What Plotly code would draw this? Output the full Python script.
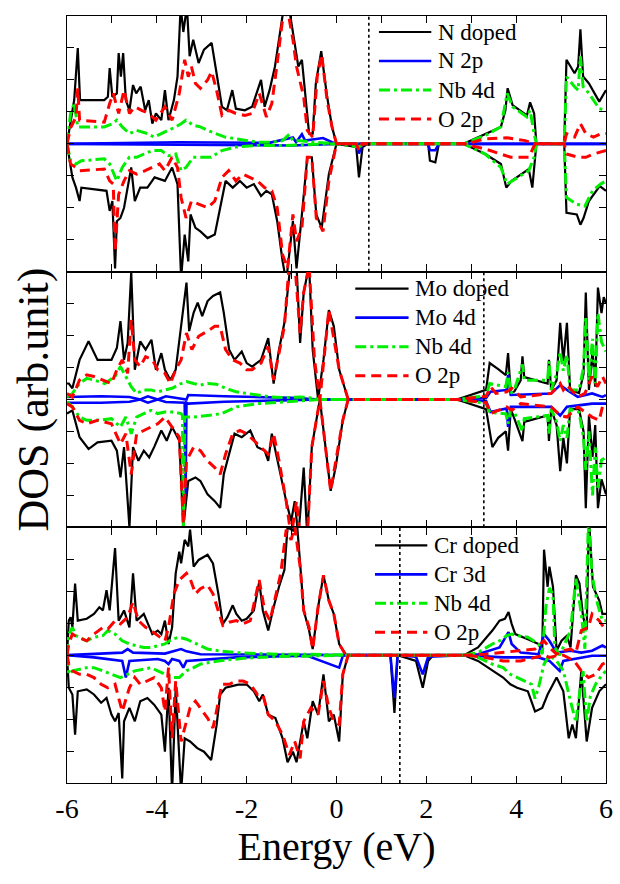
import plotly.graph_objects as go
from plotly.subplots import make_subplots

# ---------------- DATA (energy in eV, DOS in arb. units; spin up > 0, spin down < 0) ----------------
energy_ticks = [-6, -5, -4, -3, -2, -1, 0, 1, 2, 3, 4, 5, 6]
energy_labels = ["-6", "", "-4", "", "-2", "", "0", "", "2", "", "4", "", "6"]
dotted_levels = [0.72, 3.28, 1.41]
panel_names = ["N doped", "Mo doped", "Cr doped"]
dopant_labels = ["N 2p", "Mo 4d", "Cr 3d"]

# ---- Panel 1: N doped ----
N_total_up = [(-6.0, 0), (-5.88, 1.0), (-5.84, 1.37), (-5.76, 3.0), (-5.71, 1.37), (-5.17, 1.37), (-5.09, 1.47),
              (-5.05, 2.37), (-4.99, 1.47), (-4.89, 1.58), (-4.85, 2.84), (-4.80, 2.1), (-4.75, 2.84), (-4.69, 1.37),
              (-4.61, 1.05), (-4.53, 1.84), (-4.46, 1.58), (-4.36, 1.79), (-4.26, 1.05), (-4.18, 1.37), (-4.10, 0.63),
              (-4.02, 0.95), (-3.90, 0.74), (-3.82, 1.68), (-3.74, 0.74), (-3.62, 1.37), (-3.54, 2.1), (-3.47, 4.3),
              (-3.41, 3.5), (-3.33, 4.3), (-3.27, 2.74), (-3.19, 3.26), (-3.07, 2.53), (-2.95, 2.95), (-2.78, 3.16),
              (-2.67, 2.21), (-2.55, 1.16), (-2.44, 1.05), (-2.32, 1.68), (-2.24, 1.1), (-2.04, 1.05), (-1.88, 1.16),
              (-1.76, 1.68), (-1.68, 2.0), (-1.60, 1.16), (-1.49, 1.68), (-1.37, 2.42), (-1.25, 3.58), (-1.17, 4.3),
              (-1.05, 4.2), (-0.97, 3.47), (-0.85, 2.42), (-0.77, 2.63), (-0.69, 1.37), (-0.61, 0.32), (-0.53, 0.32),
              (-0.46, 1.89), (-0.34, 2.9), (-0.22, 1.58), (-0.10, 0.53), (0.0, 0), (2.83, 0), (3.31, 0.32),
              (3.66, 0.53), (3.76, 1.05), (3.81, 1.74), (3.92, 1.21), (4.24, 0.89), (4.31, 1.3), (4.40, 0.95),
              (4.45, 0), (5.07, 0), (5.12, 2.63), (5.30, 2.21), (5.38, 2.42), (5.43, 3.58), (5.49, 2.11),
              (5.62, 1.89), (5.85, 1.32), (6.0, 1.68)]
N_total_dn = [(-6.0, 0), (-5.88, -1.05), (-5.80, -1.37), (-5.72, -1.79), (-5.68, -1.37), (-5.12, -1.47),
              (-5.05, -2.1), (-4.99, -1.79), (-4.93, -3.9), (-4.89, -2.42), (-4.81, -2.32), (-4.73, -2.0),
              (-4.57, -0.74), (-4.49, -1.79), (-4.37, -1.37), (-4.21, -1.37), (-4.05, -1.05), (-3.82, -1.16),
              (-3.66, -0.74), (-3.54, -1.26), (-3.46, -4.2), (-3.38, -2.84), (-3.30, -3.68), (-3.25, -2.21),
              (-3.14, -2.63), (-3.03, -2.74), (-2.87, -2.95), (-2.71, -2.84), (-2.59, -2.0), (-2.47, -1.16),
              (-2.31, -1.37), (-2.15, -1.16), (-2.0, -1.37), (-1.84, -1.26), (-1.68, -1.63), (-1.56, -1.47),
              (-1.44, -1.58), (-1.32, -2.42), (-1.20, -3.68), (-1.12, -4.3), (-0.97, -2.42), (-0.89, -3.9),
              (-0.77, -2.21), (-0.65, -0.42), (-0.55, -0.42), (-0.45, -2.21), (-0.33, -2.63), (-0.17, -0.95),
              (0.0, 0), (0.44, -0.1), (0.50, -1.05), (0.58, -0.1), (0.70, 0), (2.04, 0), (2.08, -0.53),
              (2.20, -0.58), (2.28, 0), (2.83, 0), (3.31, -0.32), (3.66, -0.63), (3.78, -1.37), (3.90, -1.16),
              (4.28, -0.79), (4.36, -1.37), (4.45, 0), (5.07, 0), (5.12, -2.16), (5.35, -2.21), (5.43, -2.53),
              (5.50, -2.32), (5.62, -1.79), (5.86, -1.32), (6.0, -1.47)]
N_O2p_up = [(-6.0, 0), (-5.92, 0.5), (-5.80, 0.84), (-5.76, 1.74), (-5.72, 0.74), (-5.17, 0.68), (-5.05, 1.26),
            (-4.97, 1.58), (-4.85, 0.95), (-4.73, 1.68), (-4.61, 0.95), (-4.49, 1.16), (-4.34, 1.05), (-4.18, 0.95),
            (-4.02, 0.74), (-3.82, 1.16), (-3.66, 0.74), (-3.50, 1.58), (-3.38, 2.63), (-3.30, 2.1), (-3.23, 2.42),
            (-3.14, 1.89), (-3.03, 1.74), (-2.87, 2.0), (-2.78, 2.26), (-2.67, 1.68), (-2.55, 0.89), (-2.40, 1.05),
            (-2.24, 0.95), (-2.04, 0.89), (-1.88, 0.95), (-1.72, 1.58), (-1.56, 0.84), (-1.44, 1.26), (-1.33, 2.42),
            (-1.21, 3.79), (-1.09, 4.2), (-0.97, 3.26), (-0.89, 2.42), (-0.81, 1.89), (-0.73, 1.47), (-0.65, 0.42),
            (-0.53, 0.21), (-0.43, 2.1), (-0.33, 2.8), (-0.21, 1.37), (-0.10, 0.53), (0.0, 0), (2.99, 0),
            (3.03, 0.05), (3.31, 0.16), (3.80, 0.19), (4.20, 0.1), (4.42, 0), (5.07, 0), (5.12, 0.32), (5.30, 0.21),
            (5.43, 0.63), (5.55, 0.32), (5.72, 0.21), (5.90, 0.32), (6.0, 0.32)]
N_O2p_dn = [(-6.0, 0), (-5.92, -0.63), (-5.80, -0.74), (-5.72, -0.84), (-5.17, -0.79), (-5.05, -1.16),
            (-4.97, -1.26), (-4.93, -3.37), (-4.85, -1.58), (-4.73, -1.16), (-4.61, -0.84), (-4.45, -0.95),
            (-4.26, -0.84), (-4.10, -0.74), (-3.94, -0.63), (-3.82, -0.84), (-3.66, -0.42), (-3.54, -0.74),
            (-3.46, -1.68), (-3.35, -2.32), (-3.23, -1.79), (-3.07, -1.89), (-2.87, -2.0), (-2.71, -1.79),
            (-2.55, -1.05), (-2.40, -0.84), (-2.24, -1.16), (-2.08, -0.95), (-1.92, -1.05), (-1.76, -1.16),
            (-1.60, -1.37), (-1.44, -1.47), (-1.32, -2.0), (-1.20, -3.47), (-1.09, -3.9), (-0.97, -2.21),
            (-0.89, -3.05), (-0.77, -2.63), (-0.65, -0.42), (-0.55, -0.42), (-0.45, -2.32), (-0.30, -2.74),
            (-0.17, -1.16), (0.0, 0), (0.44, 0), (0.50, -0.21), (0.58, 0), (2.83, 0), (3.31, -0.16), (3.88, -0.42),
            (4.28, -0.42), (4.42, 0), (5.07, 0), (5.12, -0.32), (5.38, -0.42), (5.55, -0.42), (5.72, -0.32),
            (6.0, -0.21)]
N_Nb4d_up = [(-6.0, 0), (-5.92, 0.95), (-5.84, 1.26), (-5.76, 0.53), (-5.17, 0.53), (-4.99, 0.63), (-4.89, 0.74),
             (-4.77, 0.53), (-4.61, 0.32), (-4.45, 0.42), (-4.21, 0.32), (-4.06, 0.21), (-3.90, 0.32), (-3.74, 0.42),
             (-3.58, 0.53), (-3.46, 0.63), (-3.35, 0.74), (-3.19, 0.58), (-3.03, 0.53), (-2.87, 0.42), (-2.67, 0.32),
             (-2.48, 0.21), (-2.24, 0.16), (-2.0, 0.1), (-1.76, 0.05), (-1.44, 0.05), (-1.20, 0.1), (-1.05, 0.3),
             (-0.97, 0.1), (-0.8, 0.1), (-0.5, 0.05), (0.0, 0), (2.83, 0), (3.31, 0.26), (3.66, 0.53), (3.80, 1.58),
             (3.92, 1.16), (4.24, 0.84), (4.31, 1.05), (4.40, 0.32), (4.45, 0), (5.07, 0), (5.12, 2.1),
             (5.30, 1.79), (5.38, 1.68), (5.43, 2.74), (5.49, 1.79), (5.62, 1.58), (5.85, 1.1), (6.0, 1.05)]
N_Nb4d_dn = [(-6.0, 0), (-5.92, -0.53), (-5.80, -0.63), (-5.68, -0.53), (-5.17, -0.47), (-5.05, -0.63),
             (-4.89, -1.16), (-4.77, -0.74), (-4.61, -0.42), (-4.45, -0.42), (-4.29, -0.32), (-4.10, -0.21),
             (-3.90, -0.21), (-3.74, -0.37), (-3.58, -0.32), (-3.46, -0.84), (-3.35, -0.74), (-3.19, -0.42),
             (-3.03, -0.42), (-2.79, -0.42), (-2.55, -0.21), (-2.24, -0.1), (-1.76, -0.05), (-1.12, -0.05),
             (-0.65, -0.02), (0.0, 0), (0.50, -0.1), (0.6, 0), (2.83, 0), (3.31, -0.32), (3.66, -0.74),
             (3.80, -1.26), (4.28, -0.84), (4.40, -0.42), (4.45, 0), (5.07, 0), (5.12, -1.68), (5.35, -1.89),
             (5.53, -1.95), (5.70, -1.47), (5.88, -1.26), (6.0, -1.16)]
N_N2p_up = [(-6.0, 0), (-4.5, 0.02), (-3.5, 0.05), (-1.5, 0.03), (-0.97, 0.2), (-0.9, 0.05), (-0.77, 0.3),
            (-0.7, 0.1), (-0.3, 0.18), (-0.1, 0.05), (0.0, 0), (6.0, 0)]
N_N2p_dn = [(-6.0, 0), (-3.5, -0.03), (-1.0, -0.05), (0.0, 0), (0.44, 0), (0.50, -0.3), (0.58, 0), (2.04, 0),
            (2.08, -0.2), (2.20, -0.2), (2.28, 0), (6.0, 0)]

# ---- Panel 2: Mo doped ----
Mo_total_up = [(-6.0, 0.5), (-5.96, 0.5), (-5.88, 0.35), (-5.72, 1.24), (-5.52, 1.82), (-5.32, 1.24), (-5.01, 1.24),
               (-4.89, 1.61), (-4.81, 2.45), (-4.73, 1.24), (-4.65, 1.77), (-4.57, 3.98), (-4.49, 0.93),
               (-4.37, 1.82), (-4.25, 1.56), (-4.12, 1.87), (-4.02, 0.93), (-3.90, 1.45), (-3.82, 0.93),
               (-3.70, 0.61), (-3.58, 0.93), (-3.46, 2.29), (-3.34, 3.66), (-3.28, 2.14), (-3.18, 2.72),
               (-3.09, 3.03), (-2.99, 2.61), (-2.87, 3.08), (-2.75, 3.24), (-2.59, 3.35), (-2.51, 2.72),
               (-2.39, 1.56), (-2.27, 1.24), (-2.11, 1.5), (-2.0, 1.14), (-1.88, 1.03), (-1.68, 1.24), (-1.52, 1.92),
               (-1.40, 0.5), (-1.28, 1.56), (-1.16, 2.4), (-1.05, 3.9), (-0.97, 4.3), (-0.89, 4.2), (-0.81, 1.77),
               (-0.73, 3.35), (-0.61, 4.2), (-0.53, 1.56), (-0.41, 0.0), (-0.29, 1.24), (-0.17, 2.8), (-0.06, 2.29),
               (0.06, 0.93), (0.26, 0.0), (2.68, 0.0), (3.33, 0.3), (3.41, 1.14), (3.60, 0.95), (3.77, 0.76),
               (3.82, 1.45), (3.88, 0.2), (3.96, 0.25), (4.10, 0.6), (4.14, 1.35), (4.18, 0.7), (4.70, 0.5),
               (4.73, 1.24), (4.78, 0.3), (4.90, 0.6), (4.98, 2.4), (5.05, 1.2), (5.13, 2.4), (5.20, 0.3),
               (5.40, 0.2), (5.50, 0.8), (5.55, 3.35), (5.62, 0.3), (5.70, 1.5), (5.76, 0.4), (5.82, 3.5),
               (5.90, 2.7), (5.95, 3.2), (6.0, 3.0)]
Mo_total_dn = [(-6.0, -0.44), (-5.88, -0.34), (-5.72, -1.18), (-5.52, -1.55), (-5.32, -1.34), (-5.01, -1.29),
               (-4.89, -1.6), (-4.81, -2.44), (-4.73, -1.49), (-4.61, -4.0), (-4.53, -1.49), (-4.41, -1.92),
               (-4.29, -1.6), (-4.17, -1.81), (-4.06, -1.49), (-3.90, -0.97), (-3.78, -1.29), (-3.66, -0.86),
               (-3.50, -1.29), (-3.41, -4.0), (-3.30, -2.55), (-3.14, -2.44), (-3.03, -2.55), (-2.95, -2.76),
               (-2.87, -2.97), (-2.71, -3.18), (-2.59, -3.39), (-2.51, -2.34), (-2.39, -1.71), (-2.27, -1.07),
               (-2.11, -1.18), (-1.92, -0.97), (-1.76, -1.49), (-1.60, -1.6), (-1.52, -1.92), (-1.44, -1.07),
               (-1.36, -1.6), (-1.24, -2.44), (-1.12, -3.18), (-1.01, -3.81), (-0.93, -3.18), (-0.85, -4.3),
               (-0.73, -2.13), (-0.65, -4.3), (-0.55, -1.49), (-0.37, 0.0), (-0.25, -1.49), (-0.13, -2.86),
               (-0.02, -2.13), (0.14, -0.65), (0.26, 0.0), (2.68, 0.0), (3.33, -0.3), (3.41, -1.07), (3.47, -1.49),
               (3.60, -1.2), (3.77, -1.0), (3.82, -1.6), (3.88, -0.3), (3.96, -0.6), (4.14, -1.3), (4.18, -0.7),
               (4.70, -0.5), (4.73, -1.3), (4.78, -0.3), (4.90, -0.8), (4.98, -2.24), (5.05, -1.2), (5.13, -2.0),
               (5.20, -0.3), (5.40, -0.3), (5.50, -1.0), (5.55, -3.4), (5.62, -0.5), (5.70, -1.8), (5.76, -0.8),
               (5.82, -3.4), (5.90, -2.5), (6.0, -2.97)]
Mo_O2p_up = [(-6.0, 0.19), (-5.88, 0.08), (-5.72, 0.61), (-5.56, 0.77), (-5.40, 0.72), (-5.20, 0.61), (-5.01, 0.5),
             (-4.89, 0.93), (-4.77, 1.24), (-4.65, 0.82), (-4.57, 2.5), (-4.49, 1.24), (-4.37, 1.03), (-4.25, 1.34),
             (-4.10, 1.24), (-3.98, 0.93), (-3.82, 0.82), (-3.70, 0.5), (-3.58, 0.93), (-3.46, 1.24), (-3.34, 2.08),
             (-3.22, 1.56), (-3.07, 1.98), (-2.87, 2.14), (-2.71, 2.29), (-2.59, 2.29), (-2.47, 1.56),
             (-2.31, 1.24), (-2.15, 1.14), (-2.0, 0.93), (-1.88, 0.93), (-1.68, 1.14), (-1.52, 1.66), (-1.40, 0.61),
             (-1.28, 1.45), (-1.16, 2.29), (-1.05, 4.3), (-0.93, 4.3), (-0.81, 2.08), (-0.73, 3.35), (-0.61, 4.2),
             (-0.49, 1.24), (-0.37, 0.0), (-0.17, 2.8), (0.06, 0.93), (0.26, 0.0), (2.68, 0.0), (3.33, 0.1),
             (3.43, 0.4), (3.55, 0.19), (3.79, 0.24), (3.90, 0.35), (4.10, 0.08), (4.42, 0.14), (4.78, 0.19),
             (4.98, 0.5), (5.05, 0.3), (5.13, 0.45), (5.37, 0.08), (5.53, 0.19), (5.69, 0.72), (5.81, 0.4),
             (5.92, 0.72), (6.0, 0.5)]
Mo_O2p_dn = [(-6.0, -0.13), (-5.88, -0.23), (-5.72, -0.65), (-5.56, -0.76), (-5.32, -0.65), (-5.01, -0.76),
             (-4.81, -1.39), (-4.69, -1.07), (-4.57, -2.34), (-4.45, -1.07), (-4.29, -0.97), (-4.13, -0.86),
             (-3.98, -0.76), (-3.82, -0.55), (-3.66, -0.86), (-3.50, -1.18), (-3.41, -3.9), (-3.34, -1.92),
             (-3.18, -1.49), (-3.03, -1.6), (-2.87, -1.92), (-2.71, -2.13), (-2.59, -2.34), (-2.47, -1.71),
             (-2.31, -1.07), (-2.15, -0.97), (-2.0, -1.07), (-1.84, -1.29), (-1.68, -1.49), (-1.52, -1.71),
             (-1.40, -1.07), (-1.28, -1.92), (-1.12, -3.18), (-1.01, -4.3), (-0.89, -3.18), (-0.81, -4.3),
             (-0.65, -4.3), (-0.55, -1.49), (-0.37, 0.0), (-0.13, -2.86), (0.14, -0.65), (0.26, 0.0), (2.68, 0.0),
             (3.33, -0.1), (3.43, -0.44), (3.79, -0.23), (3.90, -0.34), (4.10, -0.13), (4.78, -0.23),
             (4.98, -0.5), (5.13, -0.55), (5.37, -0.23), (5.69, -0.55), (5.85, -0.65), (5.92, -0.23), (6.0, -0.23)]
Mo_Nb4d_up = [(-6.0, 0.08), (-5.88, 0.19), (-5.72, 0.5), (-5.56, 0.66), (-5.40, 0.61), (-5.16, 0.5), (-4.93, 0.72),
              (-4.81, 1.03), (-4.69, 0.72), (-4.57, 0.4), (-4.45, 0.19), (-4.29, 0.3), (-4.13, 0.3), (-3.98, 0.24),
              (-3.82, 0.3), (-3.66, 0.35), (-3.46, 0.5), (-3.34, 0.56), (-3.18, 0.5), (-3.03, 0.45), (-2.87, 0.5),
              (-2.67, 0.48), (-2.47, 0.35), (-2.23, 0.24), (-2.0, 0.19), (-1.76, 0.14), (-1.44, 0.08),
              (-1.12, 0.06), (-0.81, 0.08), (-0.49, 0.04), (-0.37, 0.0), (2.68, 0.0), (3.33, 0.12), (3.41, 0.5),
              (3.77, 0.4), (3.82, 0.85), (3.88, 0.2), (3.96, 0.3), (4.14, 1.1), (4.18, 0.6), (4.70, 0.6),
              (4.73, 1.2), (4.78, 0.3), (4.90, 0.8), (4.98, 1.5), (5.05, 0.9), (5.13, 1.4), (5.20, 0.3),
              (5.40, 0.3), (5.50, 1.0), (5.55, 2.6), (5.62, 0.6), (5.70, 1.9), (5.76, 0.5), (5.82, 2.7),
              (5.90, 1.8), (6.0, 1.5)]
Mo_Nb4d_dn = [(-6.0, -0.07), (-5.88, -0.23), (-5.72, -0.55), (-5.56, -0.65), (-5.32, -0.65), (-5.01, -0.6),
              (-4.81, -0.86), (-4.69, -0.55), (-4.57, -1.07), (-4.45, -0.55), (-4.29, -0.44), (-4.13, -0.34),
              (-3.98, -0.44), (-3.82, -0.39), (-3.66, -0.39), (-3.46, -0.44), (-3.43, -0.5), (-3.41, -4.3),
              (-3.38, -0.55), (-3.34, -0.55), (-3.18, -0.55), (-2.87, -0.5), (-2.55, -0.44), (-2.23, -0.23),
              (-1.76, -0.13), (-1.12, -0.07), (-0.37, 0.0), (2.68, 0.0), (3.33, -0.12), (3.41, -0.4),
              (3.77, -0.45), (3.82, -0.76), (3.88, -0.3), (3.96, -0.4), (4.14, -1.0), (4.18, -0.6), (4.70, -0.5),
              (4.73, -1.07), (4.78, -0.3), (4.90, -0.7), (4.98, -1.3), (5.05, -0.8), (5.13, -1.2), (5.20, -0.3),
              (5.40, -0.4), (5.50, -1.2), (5.55, -2.2), (5.62, -1.0), (5.70, -3.0), (5.76, -1.5), (5.82, -2.76),
              (5.90, -1.9), (6.0, -1.81)]
Mo_Mo4d_up = [(-6.0, 0.08), (-5.24, 0.1), (-4.61, 0.08), (-4.37, 0.0), (-4.2, 0.1), (-3.98, 0.0), (-3.8, 0.1),
              (-3.34, 0.0), (-3.30, 0.14), (-2.5, 0.1), (-1.0, 0.05), (-0.37, 0.0), (2.68, 0.0), (3.33, 0.05),
              (3.43, 0.24), (3.79, 0.3), (3.82, 0.77), (3.88, 0.14), (4.78, 0.19), (4.98, 0.45), (5.13, 0.3),
              (5.37, 0.08), (5.69, 0.19), (5.92, 0.08), (6.0, 0.14)]
Mo_Mo4d_dn = [(-6.0, -0.1), (-5.24, -0.1), (-4.61, -0.07), (-4.37, 0.0), (-4.2, -0.1), (-3.98, 0.0), (-3.8, -0.08),
              (-3.38, -0.1), (-3.36, -2.97), (-3.34, -0.1), (-3.30, -0.13), (-2.5, -0.07), (-1.0, -0.02),
              (-0.37, 0.0), (2.68, 0.0), (3.33, -0.05), (3.43, -0.39), (3.79, -0.28), (3.82, -0.86), (3.88, -0.23),
              (4.78, -0.23), (4.98, -0.5), (5.13, -0.23), (5.69, -0.13), (6.0, -0.13)]

# ---- Panel 3: Cr doped ----
Cr_total_up = [(-6.0, 0.0), (-5.96, 1.08), (-5.92, 1.19), (-5.88, 0.87), (-5.82, 2.24), (-5.76, 1.08),
               (-5.56, 1.14), (-5.40, 1.29), (-5.28, 1.5), (-5.20, 1.4), (-5.12, 2.03), (-5.05, 1.4), (-4.93, 3.35),
               (-4.85, 1.08), (-4.73, 1.4), (-4.61, 0.87), (-4.53, 2.56), (-4.45, 1.08), (-4.29, 1.29),
               (-4.17, 0.87), (-4.10, 0.66), (-3.98, 0.77), (-3.90, 0.66), (-3.82, 1.08), (-3.74, 0.35),
               (-3.66, 0.87), (-3.58, 2.56), (-3.50, 3.24), (-3.46, 2.87), (-3.38, 3.61), (-3.30, 3.4),
               (-3.26, 3.93), (-3.18, 2.77), (-3.07, 2.98), (-2.95, 3.08), (-2.87, 3.14), (-2.75, 2.87),
               (-2.63, 1.92), (-2.53, 0.98), (-2.43, 1.19), (-2.31, 1.56), (-2.23, 1.29), (-2.11, 1.08),
               (-2.0, 1.14), (-1.84, 1.4), (-1.72, 2.3), (-1.64, 1.4), (-1.52, 0.77), (-1.40, 1.5), (-1.28, 2.14),
               (-1.16, 2.66), (-1.09, 4.0), (-0.97, 3.9), (-0.89, 4.3), (-0.81, 2.87), (-0.73, 1.4), (-0.61, 0.77),
               (-0.53, 0.19), (-0.41, 1.5), (-0.29, 2.5), (-0.17, 1.71), (-0.06, 1.29), (0.06, 0.35), (0.21, 0.0),
               (2.84, 0.0), (3.15, 0.24), (3.47, 0.77), (3.63, 1.08), (3.75, 1.14), (3.83, 1.35), (3.90, 0.98),
               (3.98, 0.66), (4.26, 0.5), (4.50, 0.35), (4.58, 0.08), (4.62, 3.3), (4.70, 2.14), (4.74, 2.77),
               (4.82, 2.14), (4.90, 0.14), (5.01, 0.45), (5.13, 0.61), (5.21, 0.24), (5.33, 2.5), (5.41, 2.24),
               (5.49, 1.2), (5.57, 0.8), (5.62, 4.3), (5.71, 2.14), (5.85, 1.71), (5.92, 1.29), (6.0, 1.29)]
Cr_total_dn = [(-6.0, 0.0), (-5.96, -1.02), (-5.88, -1.23), (-5.82, -2.49), (-5.76, -1.13), (-5.56, -1.07),
               (-5.40, -1.23), (-5.24, -1.49), (-5.12, -1.34), (-5.01, -1.86), (-4.93, -2.07), (-4.85, -1.81),
               (-4.77, -3.86), (-4.73, -2.07), (-4.61, -1.65), (-4.49, -2.07), (-4.37, -1.44), (-4.21, -1.34),
               (-4.06, -1.55), (-3.90, -1.86), (-3.82, -3.02), (-3.74, -1.02), (-3.66, -4.3), (-3.58, -1.02),
               (-3.46, -4.3), (-3.38, -2.6), (-3.26, -2.7), (-3.10, -2.91), (-2.95, -3.02), (-2.79, -3.28),
               (-2.67, -2.2), (-2.59, -1.23), (-2.47, -1.02), (-2.35, -0.97), (-2.19, -0.92), (-2.0, -0.92),
               (-1.84, -1.13), (-1.72, -1.44), (-1.64, -1.23), (-1.52, -1.86), (-1.36, -1.97), (-1.20, -2.6),
               (-1.09, -3.35), (-0.97, -3.02), (-0.89, -3.35), (-0.73, -2.07), (-0.65, -2.6), (-0.53, -1.44),
               (-0.41, -1.86), (-0.29, -0.6), (-0.17, -2.07), (-0.06, -1.86), (0.06, -2.7), (0.14, -0.6),
               (0.26, 0.0), (1.2, 0.0), (1.29, -1.81), (1.36, 0.0), (1.77, -0.18), (1.92, -1.02), (2.04, -0.18),
               (2.15, 0.0), (2.84, 0.0), (3.15, -0.18), (3.47, -0.49), (3.71, -0.7), (3.87, -0.91), (4.02, -1.02),
               (4.26, -1.13), (4.42, -1.76), (4.58, -1.65), (4.70, -1.23), (4.78, -1.02), (4.90, -0.7),
               (5.05, -1.13), (5.17, -2.6), (5.25, -2.17), (5.33, -2.6), (5.45, -0.49), (5.57, -2.7),
               (5.69, -1.65), (5.85, -1.13), (6.0, -0.91)]
Cr_O2p_up = [(-6.0, 0.0), (-5.96, 0.35), (-5.88, 0.66), (-5.76, 0.56), (-5.56, 0.45), (-5.40, 0.66), (-5.20, 0.87),
             (-5.09, 0.82), (-4.93, 1.08), (-4.81, 0.98), (-4.65, 1.19), (-4.53, 1.66), (-4.41, 1.08),
             (-4.25, 0.87), (-4.13, 0.77), (-4.02, 0.66), (-3.82, 0.45), (-3.74, 0.87), (-3.62, 1.92),
             (-3.50, 2.35), (-3.34, 2.56), (-3.26, 2.4), (-3.14, 1.92), (-3.03, 2.08), (-2.87, 2.19), (-2.75, 1.92),
             (-2.63, 1.4), (-2.53, 0.93), (-2.39, 1.03), (-2.23, 1.08), (-2.08, 0.98), (-1.92, 1.08), (-1.72, 2.35),
             (-1.60, 1.4), (-1.48, 1.08), (-1.36, 1.82), (-1.24, 2.56), (-1.12, 3.93), (-1.01, 3.61), (-0.93, 4.03),
             (-0.81, 2.77), (-0.73, 1.4), (-0.61, 0.87), (-0.53, 0.19), (-0.41, 1.5), (-0.29, 2.5), (-0.17, 1.71),
             (-0.06, 1.29), (0.06, 0.35), (0.21, 0.0), (2.84, 0.0), (3.31, 0.03), (3.71, 0.08), (4.10, 0.14),
             (4.42, 0.19), (4.62, 0.45), (4.74, 0.24), (4.90, 0.03), (5.05, 0.14), (5.21, 0.19), (5.33, 0.08),
             (5.45, 0.77), (5.61, 0.87), (5.69, 1.29), (5.85, 1.08), (6.0, 0.77)]
Cr_O2p_dn = [(-6.0, 0.0), (-5.96, -0.28), (-5.88, -0.49), (-5.72, -0.6), (-5.56, -0.6), (-5.40, -0.7),
             (-5.24, -0.91), (-5.09, -1.02), (-4.93, -0.91), (-4.77, -1.76), (-4.61, -1.02), (-4.49, -0.7),
             (-4.37, -0.91), (-4.21, -0.81), (-4.06, -0.7), (-3.90, -1.02), (-3.82, -1.76), (-3.74, -0.39),
             (-3.66, -2.6), (-3.58, -0.81), (-3.46, -2.7), (-3.38, -2.28), (-3.26, -1.65), (-3.14, -1.44),
             (-3.03, -1.65), (-2.87, -1.97), (-2.75, -2.28), (-2.63, -1.44), (-2.55, -0.91), (-2.39, -0.91),
             (-2.23, -0.81), (-2.08, -0.81), (-1.92, -0.91), (-1.76, -1.23), (-1.64, -1.23), (-1.52, -1.86),
             (-1.36, -2.07), (-1.20, -2.49), (-1.05, -3.12), (-0.93, -2.7), (-0.81, -3.23), (-0.73, -2.07),
             (-0.57, -1.65), (-0.41, -1.86), (-0.29, -0.81), (-0.17, -1.65), (-0.06, -2.07), (0.06, -2.17),
             (0.14, -0.6), (0.26, 0.0), (2.84, 0.0), (3.31, -0.07), (3.71, -0.18), (4.10, -0.18), (4.42, -0.07),
             (4.62, 0.0), (4.74, -0.07), (4.90, -0.02), (5.05, 0.0), (5.29, -0.18), (5.45, -0.49), (5.61, -0.7),
             (5.77, -0.6), (5.92, -0.28), (6.0, -0.23)]
Cr_Nb4d_up = [(-6.0, 0.0), (-5.96, 0.66), (-5.88, 0.87), (-5.80, 0.61), (-5.56, 0.45), (-5.40, 0.56),
              (-5.20, 0.61), (-5.09, 0.77), (-4.93, 0.66), (-4.77, 0.45), (-4.61, 0.35), (-4.45, 0.3),
              (-4.29, 0.24), (-4.13, 0.24), (-3.98, 0.3), (-3.82, 0.35), (-3.66, 0.5), (-3.50, 0.56), (-3.34, 0.5),
              (-3.18, 0.4), (-3.03, 0.3), (-2.87, 0.19), (-2.63, 0.14), (-2.23, 0.08), (-1.76, 0.05),
              (-1.28, 0.03), (-0.65, 0.03), (0.21, 0.0), (2.84, 0.0), (3.15, 0.08), (3.47, 0.35), (3.63, 0.45),
              (3.79, 0.61), (3.90, 0.66), (4.02, 0.61), (4.26, 0.56), (4.50, 0.35), (4.58, 0.03), (4.66, 1.5),
              (4.74, 2.1), (4.82, 1.9), (4.86, 0.24), (4.97, 0.0), (5.21, 0.77), (5.33, 2.4), (5.45, 1.3),
              (5.53, 0.2), (5.61, 4.3), (5.69, 2.5), (5.81, 1.61), (5.92, 1.08), (6.0, 1.08)]
Cr_Nb4d_dn = [(-6.0, 0.0), (-5.96, -0.6), (-5.88, -0.49), (-5.72, -0.44), (-5.56, -0.39), (-5.40, -0.39),
              (-5.20, -0.49), (-5.01, -0.6), (-4.81, -0.7), (-4.65, -0.6), (-4.49, -0.49), (-4.29, -0.44),
              (-4.13, -0.39), (-3.98, -0.49), (-3.82, -0.6), (-3.66, -0.7), (-3.50, -0.7), (-3.34, -0.49),
              (-3.18, -0.39), (-3.03, -0.28), (-2.63, -0.18), (-2.08, -0.1), (-1.44, -0.05), (-0.65, -0.02),
              (0.21, 0.0), (2.84, 0.0), (3.15, -0.07), (3.47, -0.28), (3.71, -0.39), (3.87, -0.6), (4.02, -0.7),
              (4.34, -0.91), (4.42, -1.36), (4.50, -1.0), (4.62, -0.28), (4.74, 0.0), (4.90, -0.18),
              (5.05, -0.49), (5.21, -1.44), (5.33, -2.1), (5.41, -1.2), (5.49, -0.5), (5.57, -2.1),
              (5.65, -1.3), (5.77, -0.9), (5.92, -0.6), (6.0, -0.5)]
Cr_Cr3d_up = [(-6.0, 0.0), (-5.40, 0.03), (-4.77, 0.08), (-4.65, 0.19), (-4.53, 0.08), (-3.82, 0.05), (-3.46, 0.19),
              (-3.34, 0.12), (-3.03, 0.03), (-0.65, 0.01), (0.21, 0.0), (2.84, 0.0), (3.15, 0.03), (3.63, 0.24),
              (3.83, 0.72), (3.90, 0.35), (4.10, 0.08), (4.50, 0.03), (4.62, 0.66), (4.74, 0.45), (4.90, 0.08),
              (5.21, 0.14), (5.45, 0.08), (5.69, 0.14), (5.92, 0.3), (6.0, 0.24)]
Cr_Cr3d_dn = [(-6.0, 0.0), (-5.40, -0.07), (-4.77, -0.18), (-4.69, -0.7), (-4.61, -0.18), (-3.98, -0.12),
              (-3.82, -0.18), (-3.74, -0.28), (-3.66, -0.12), (-3.50, -0.18), (-3.41, -0.39), (-3.34, -0.18),
              (-2.23, -0.07), (-0.65, -0.02), (0.06, -0.39), (0.14, -0.02), (0.21, 0.0), (1.2, 0.0),
              (1.29, -1.34), (1.36, 0.0), (1.77, -0.05), (1.92, -0.6), (2.04, -0.05), (2.84, 0.0), (3.71, -0.07),
              (4.10, -0.07), (4.50, -0.07), (4.74, -0.18), (4.97, -0.49), (5.05, -0.18), (5.69, -0.02),
              (6.0, -0.02)]

panel_series = [
    [(N_total_up, N_total_dn), (N_N2p_up, N_N2p_dn), (N_Nb4d_up, N_Nb4d_dn), (N_O2p_up, N_O2p_dn)],
    [(Mo_total_up, Mo_total_dn), (Mo_Mo4d_up, Mo_Mo4d_dn), (Mo_Nb4d_up, Mo_Nb4d_dn), (Mo_O2p_up, Mo_O2p_dn)],
    [(Cr_total_up, Cr_total_dn), (Cr_Cr3d_up, Cr_Cr3d_dn), (Cr_Nb4d_up, Cr_Nb4d_dn), (Cr_O2p_up, Cr_O2p_dn)],
]

# ---------------- STYLE ----------------
FONT = "Liberation Serif"
styles = [
    dict(color="#000000", width=2.2, dash="solid"),
    dict(color="#0000ff", width=2.6, dash="solid"),
    dict(color="#00ee00", width=3, dash="11px,4px,3px,4px"),
    dict(color="#ff0000", width=3, dash="10px,6px"),
]

fig = make_subplots(rows=3, cols=1, shared_xaxes=True, vertical_spacing=0)

for p in range(3):
    names = [panel_names[p], dopant_labels[p], "Nb 4d", "O 2p"]
    for s, (up, dn) in enumerate(panel_series[p]):
        xs = [e for e, _ in up] + [None] + [e for e, _ in dn]
        ys = [v for _, v in up] + [None] + [v for _, v in dn]
        fig.add_trace(
            go.Scatter(x=xs, y=ys, mode="lines", name=names[s], line=styles[s],
                       showlegend=False, connectgaps=False),
            row=p + 1, col=1,
        )

# ---- in-panel legends (line sample + label), positioned in axis-domain fractions ----
PANEL_H = (884 - 16 - 101) / 3.0
PLOT_W = 620 - 67 - 7
legend_line_px = [(383, 436), (359, 413), (379, 432)]
legend_first_px = [16, 17, 18]
legend_step_px = 29
for p in range(3):
    names = [panel_names[p], dopant_labels[p], "Nb 4d", "O 2p"]
    xr = "x" if p == 0 else f"x{p + 1}"
    yr = "y" if p == 0 else f"y{p + 1}"
    lx0 = (legend_line_px[p][0] - 67) / PLOT_W
    lx1 = (legend_line_px[p][1] - 67) / PLOT_W
    for s in range(4):
        yy = 1 - (legend_first_px[p] + s * legend_step_px) / PANEL_H
        fig.add_shape(type="line", xref=f"{xr} domain", yref=f"{yr} domain", x0=lx0, x1=lx1, y0=yy, y1=yy,
                      line=styles[s], layer="above")
        fig.add_annotation(text=names[s], xref=f"{xr} domain", yref=f"{yr} domain", x=lx1 + 0.008, y=yy,
                           xanchor="left", yanchor="middle", showarrow=False,
                           font=dict(family=FONT, size=23, color="black"))

axis_common = dict(showline=True, linecolor="black", linewidth=1.4, mirror="allticks",
                   ticks="inside", ticklen=7, tickwidth=1.2, tickcolor="black",
                   showgrid=False, zeroline=False)
for p in range(3):
    fig.update_xaxes(range=[-6, 6], tickmode="array", tickvals=energy_ticks, ticktext=energy_labels,
                     showticklabels=(p == 2), tickfont=dict(family=FONT, size=28, color="black"),
                     row=p + 1, col=1, **axis_common)
    fig.update_yaxes(range=[-4, 4], tickmode="array", tickvals=[-3, -2, -1, 0, 1, 2, 3],
                     showticklabels=False, row=p + 1, col=1, **axis_common)
    xr = "x" if p == 0 else f"x{p + 1}"
    yr = "y" if p == 0 else f"y{p + 1}"
    fig.add_shape(type="line", xref=xr, yref=f"{yr} domain", x0=dotted_levels[p], x1=dotted_levels[p],
                  y0=0, y1=1, line=dict(color="black", width=1.6, dash="dot"), layer="above")

fig.update_xaxes(title=dict(text="Energy (eV)", font=dict(family=FONT, size=40, color="black"), standoff=6),
                 row=3, col=1)
fig.add_annotation(text="DOS (arb.unit)", xref="paper", yref="paper", x=-0.063, y=0.5, xanchor="center",
                   yanchor="middle", textangle=-90, showarrow=False,
                   font=dict(family=FONT, size=44, color="black"))

fig.update_layout(width=620, height=884, margin=dict(l=67, r=7, t=16, b=101),
                  plot_bgcolor="white", paper_bgcolor="white", showlegend=False,
                  font=dict(family=FONT, color="black"))

fig.write_html("out.html")
